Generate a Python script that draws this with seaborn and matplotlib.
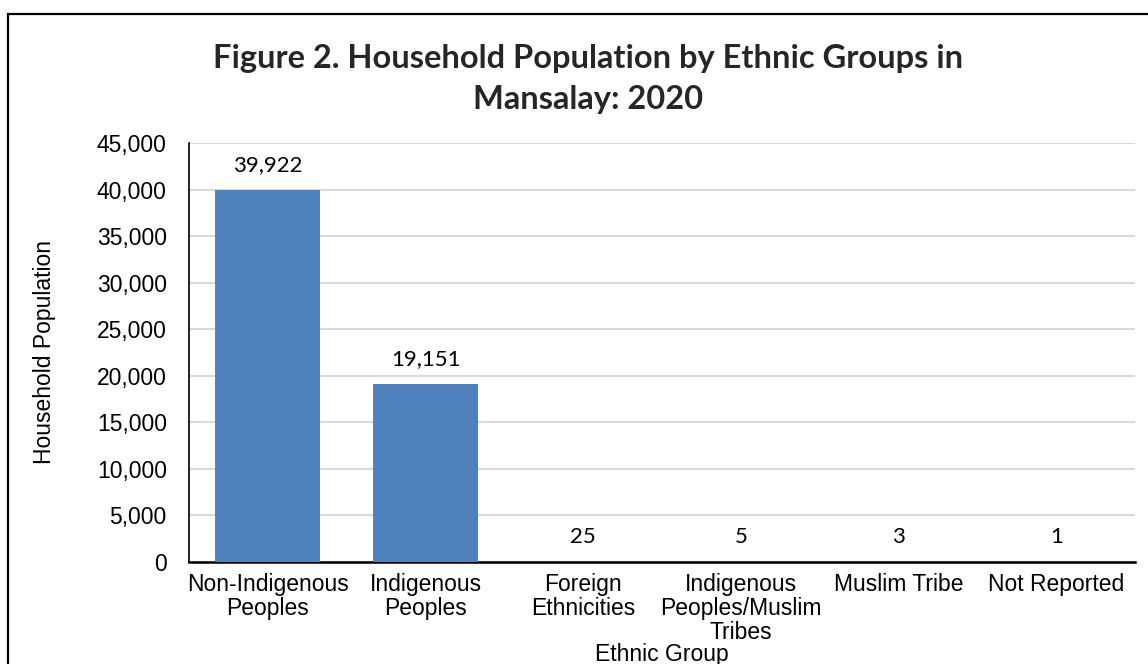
import matplotlib
matplotlib.use("Agg")
import matplotlib.pyplot as plt
from matplotlib.patches import Rectangle
from matplotlib.ticker import FuncFormatter
import seaborn as sns

# data
categories = ["Non-Indigenous\nPeoples", "Indigenous\nPeoples", "Foreign\nEthnicities",
              "Indigenous\nPeoples/Muslim\nTribes", "Muslim Tribe", "Not Reported"]
population = [39922, 19151, 25, 5, 3, 1]
y_ticks = list(range(0, 45001, 5000))

sns.set_theme(style="white")
plt.rcParams['font.family'] = ['Liberation Sans', 'DejaVu Sans']

fig = plt.figure(figsize=(11.48, 6.64), dpi=100)
ax = fig.add_axes([189 / 1148, 102 / 664, 946 / 1148, 419 / 664])

sns.barplot(x=categories, y=population, color="#4F81BD", saturation=1,
            width=0.667, edgecolor="none", linewidth=0, ax=ax, zorder=3)

ax.set_ylim(0, 45000)
ax.set_yticks(y_ticks)
ax.yaxis.set_major_formatter(FuncFormatter(lambda v, p: f"{int(v):,}"))
ax.grid(axis="y", color="#D9D9D9", linewidth=1.5, zorder=0)
ax.set_axisbelow(True)

for side in ["top", "right"]:
    ax.spines[side].set_visible(False)
ax.spines["left"].set_color("black")
ax.spines["left"].set_linewidth(1.2)
ax.spines["bottom"].set_color("black")
ax.spines["bottom"].set_linewidth(1.8)

ax.tick_params(axis="y", length=0, pad=16, labelsize=16.5, colors="black")
ax.tick_params(axis="x", length=0, pad=8, labelsize=16.5, colors="black")
for lab in ax.get_xticklabels():
    lab.set_multialignment("center")
    lab.set_linespacing(1.05)

ax.set_xlabel("Ethnic Group", fontsize=16.5, color="black", labelpad=-1)
ax.set_ylabel("Household Population", fontsize=16.5, color="black", labelpad=29)

# value labels above bars
for i, v in enumerate(population):
    ax.annotate(f"{v:,}", (i, v), xytext=(0, 18), textcoords="offset points",
                ha="center", va="center", fontsize=16, family=["Lato", "DejaVu Sans"],
                color="black")

fig.text(588 / 1148, 1 - 79 / 664, "Figure 2. Household Population by Ethnic Groups in\nMansalay: 2020",
         ha="center", va="center", fontsize=23.5, fontweight="bold",
         family=["Lato", "DejaVu Sans"], linespacing=1.5)

# outer chart border (clipped at right and bottom)
fig.patches.append(Rectangle((8 / 1148, -0.1), 1.2, 1 - 14 / 664 + 0.1,
                             transform=fig.transFigure, fill=False,
                             edgecolor="black", linewidth=1.6, zorder=10))

fig.savefig("out.png", dpi=100)
